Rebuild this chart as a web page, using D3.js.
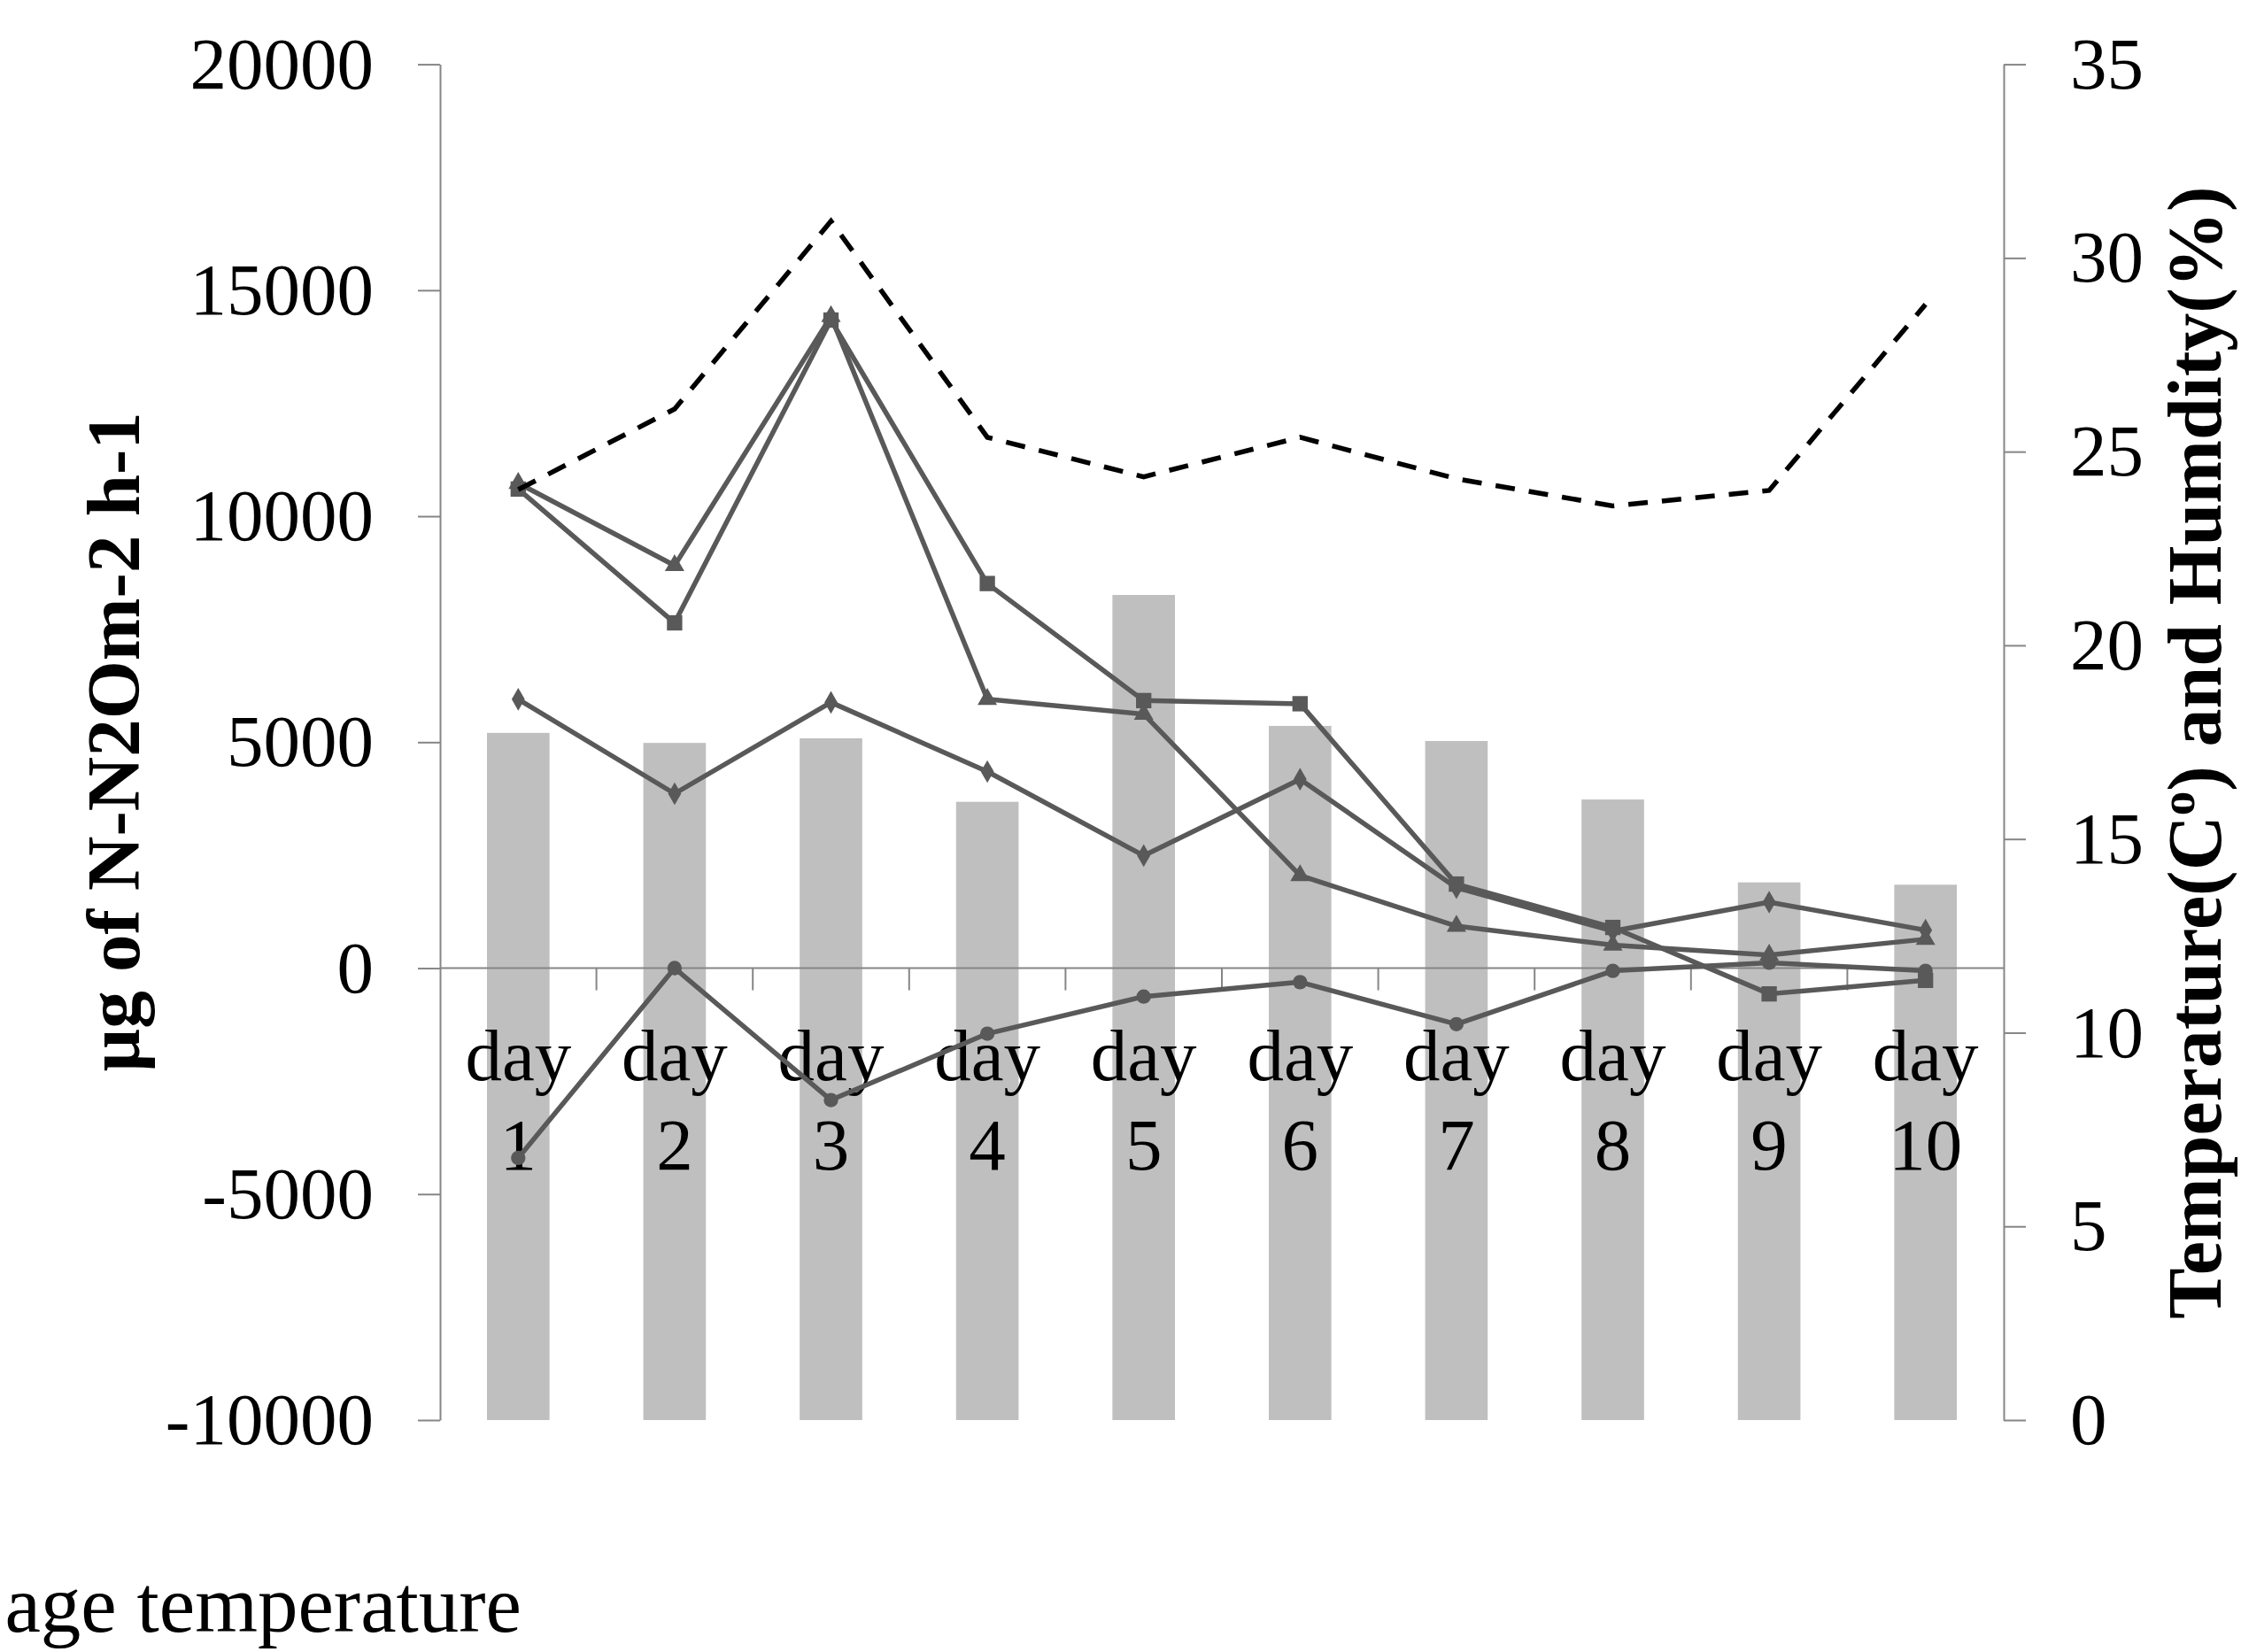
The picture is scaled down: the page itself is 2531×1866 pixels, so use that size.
<!DOCTYPE html>
<html>
<head>
<meta charset="utf-8">
<script src="https://cdn.jsdelivr.net/npm/d3@7"></script>
<style>
  body { margin: 0; background: #fff; }
  text { font-family: "Liberation Serif", "Times New Roman", serif; fill: #000; }
</style>
</head>
<body>
<svg id="chart" width="2531" height="1866"></svg>
<script>
// data
const days = ['1', '2', '3', '4', '5', '6', '7', '8', '9', '10'];
const leftTicks = [-10000, -5000, 0, 5000, 10000, 15000, 20000];
const rightTicks = [0, 5, 10, 15, 20, 25, 30, 35];

// bars and dashed line, right axis
const avgTemperature = [17.74, 17.48, 17.6, 15.96, 21.3, 17.92, 17.53, 16.02, 13.88, 13.82];
const humidity = [24.02, 26.1, 30.95, 25.37, 24.35, 25.37, 24.3, 23.6, 24.0, 28.8];

// flux series, left axis
const diamondSeries = [5950, 3860, 5880, 4350, 2490, 4180, 1780, 820, 1460, 840];
const squareSeries = [10600, 7640, 14340, 8510, 5920, 5850, 1860, 900, -570, -270];
const triangleSeries = [10730, 8910, 14420, 5950, 5620, 2050, 930, 510, 290, 640];
const circleSeries = [-4200, 0, -2920, -1450, -630, -310, -1240, -60, 120, -60];

const svg = d3.select('#chart');
svg.append('rect').attr('width', 2531).attr('height', 1866).style('fill', '#fff');

const plotLeft = 497, plotRight = 2263, plotTop = 72.6, plotBottom = 1604;
const lineColor = '#595959';
const axisColor = '#868686';

const x = d3.scaleBand().domain(days).range([plotLeft, plotRight]);
const cx = d => x(d) + x.bandwidth() / 2;
const yL = d3.scaleLinear().domain([-10000, 20000]).range([plotBottom, plotTop]);
const yR = d3.scaleLinear().domain([0, 35]).range([plotBottom, plotTop]);

// bars
svg.append('g').selectAll('rect')
  .data(avgTemperature)
  .enter()
  .append('rect')
  .attr('x', (d, i) => cx(days[i]) - x.bandwidth() * 0.2)
  .attr('width', x.bandwidth() * 0.4)
  .attr('y', d => yR(d))
  .attr('height', d => yR(0) - yR(d))
  .style('fill', '#bfbfbf');

// axes
const gl = svg.append('g')
  .attr('transform', `translate(${plotLeft},0)`)
  .call(d3.axisLeft(yL).tickValues(leftTicks).tickFormat(d => String(d))
    .tickSize(25).tickSizeOuter(0).tickPadding(50));
const gr = svg.append('g')
  .attr('transform', `translate(${plotRight},0)`)
  .call(d3.axisRight(yR).tickValues(rightTicks).tickFormat(d => String(d))
    .tickSize(25).tickSizeOuter(0).tickPadding(50));
[gl, gr].forEach(g => {
  g.selectAll('path, line').style('stroke', axisColor).style('stroke-width', 2);
  g.selectAll('text')
    .style('font-family', '"Liberation Serif", "Times New Roman", serif')
    .style('font-size', '83px')
    .style('fill', '#000');
});

// category axis on the zero line
const y0 = yL(0);
svg.append('line')
  .attr('x1', plotLeft).attr('x2', plotRight).attr('y1', y0).attr('y2', y0)
  .style('stroke', axisColor).style('stroke-width', 2);
svg.append('g').selectAll('line')
  .data(days.slice(1))
  .enter()
  .append('line')
  .attr('x1', d => x(d)).attr('x2', d => x(d))
  .attr('y1', y0).attr('y2', y0 + 25)
  .style('stroke', axisColor).style('stroke-width', 2);

const cat = svg.append('g').selectAll('text')
  .data(days)
  .enter()
  .append('text')
  .attr('x', d => cx(d))
  .attr('y', y0 + 126)
  .attr('text-anchor', 'middle')
  .style('font-size', '83px');
cat.append('tspan').text('day');
cat.append('tspan').attr('x', d => cx(d)).attr('dy', 101).text(d => d);

// solid series
const series = [
  { values: diamondSeries, symbol: d3.symbolDiamond, size: 190 },
  { values: squareSeries, symbol: d3.symbolSquare, size: 300 },
  { values: triangleSeries, symbol: d3.symbolTriangle, size: 210 },
  { values: circleSeries, symbol: d3.symbolCircle, size: 210 },
];
const lineL = d3.line().x((d, i) => cx(days[i])).y(d => yL(d));

series.forEach(s => {
  svg.append('path')
    .datum(s.values)
    .attr('d', lineL)
    .style('fill', 'none')
    .style('stroke', lineColor)
    .style('stroke-width', 5.5)
    .style('stroke-linejoin', 'round');
  svg.append('g').selectAll('path')
    .data(s.values)
    .enter()
    .append('path')
    .attr('transform', (d, i) => `translate(${cx(days[i])},${yL(d)})`)
    .attr('d', d3.symbol().type(s.symbol).size(s.size))
    .style('fill', lineColor);
});

// dashed humidity line
const lineR = d3.line().x((d, i) => cx(days[i])).y(d => yR(d));
svg.append('path')
  .datum(humidity)
  .attr('d', lineR)
  .style('fill', 'none')
  .style('stroke', '#000')
  .style('stroke-width', 5.5)
  .style('stroke-dasharray', '22,16');

// axis titles
svg.append('text')
  .attr('transform', 'translate(157,838) rotate(-90)')
  .attr('text-anchor', 'middle')
  .style('font-size', '85px')
  .style('font-weight', 'bold')
  .text('µg of N-N2Om-2 h-1');

const rt = svg.append('text')
  .attr('transform', 'translate(2508,850) rotate(-90)')
  .attr('text-anchor', 'middle')
  .style('font-size', '86px')
  .style('font-weight', 'bold');
rt.append('tspan').text('Temperature(C');
rt.append('tspan').attr('baseline-shift', 'super').style('font-size', '55px').text('o');
rt.append('tspan').text(') and Humdity(%)');

// legend entry: only this part is inside the figure's frame
svg.append('text')
  .attr('x', 589)
  .attr('y', 1843)
  .attr('text-anchor', 'end')
  .style('font-size', '91px')
  .text('age temperature');
</script>
</body>
</html>
